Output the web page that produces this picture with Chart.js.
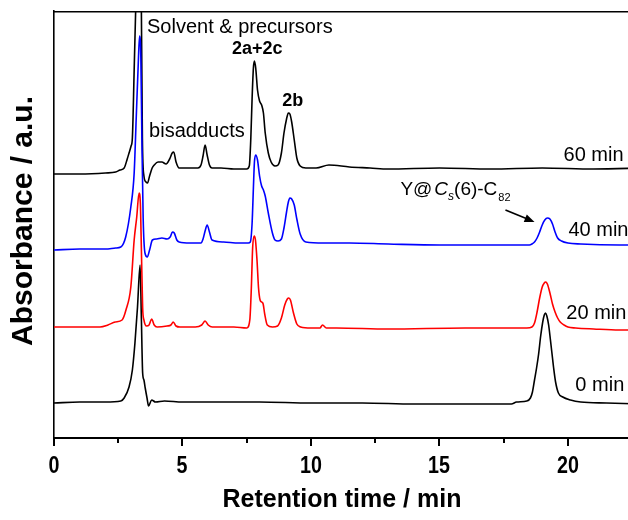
<!DOCTYPE html>
<html><head><meta charset="utf-8">
<script src="https://cdn.jsdelivr.net/npm/chart.js@4/dist/chart.umd.min.js"></script>
<style>html,body{margin:0;padding:0;overflow:hidden;background:#fff;width:628px;height:520px}canvas{display:block}</style>
</head><body><canvas id="c" width="645" height="520"></canvas>
<script>
// Retention time (min) and absorbance (a.u., traces stacked with offsets)
const t60 = [0,1,2,2.4,2.57,2.73,2.85,2.92,3.0,3.05,3.12,3.2,3.28,3.36,3.4,3.44,3.5,3.58,3.64,3.72,3.82,3.9,4.05,4.2,4.36,4.5,4.6,4.66,4.75,4.87,5.2,5.6,5.72,5.8,5.88,5.96,6.05,6.15,6.5,7.0,7.5,7.6,7.66,7.71,7.76,7.8,7.85,7.92,8.0,8.08,8.15,8.22,8.34,8.45,8.6,8.72,8.85,8.95,9.05,9.12,9.18,9.25,9.35,9.45,9.58,9.8,10.2,10.7,11.5,12.3,13,15,17,19,21,23];
const a60 = [264,264,265,266,268,270,279,285,292,300,368,450,520,500,430,300,262,256,255,262,270,273,276,276,274,279,285,286,276,270,270,270,273,282,293,283,273,270,270,269,269,272,300,340,370,377,370,348,337,333,325,305,285,276,272,273,285,305,319,325,324,316,298,280,272,270,270,273,271,270,269,270,269,270,269,270];

const t40 = [0,1,2,2.4,2.6,2.79,2.99,3.12,3.2,3.28,3.33,3.38,3.42,3.47,3.54,3.63,3.72,3.83,4.0,4.2,4.4,4.52,4.61,4.68,4.78,4.87,5.3,5.72,5.8,5.88,5.96,6.05,6.15,6.6,7.2,7.56,7.64,7.71,7.76,7.8,7.85,7.92,8.0,8.08,8.15,8.22,8.34,8.5,8.6,8.72,8.85,8.95,9.05,9.12,9.18,9.25,9.35,9.45,9.58,9.8,10.5,11.5,13,15,17,18.4,18.5,18.6,18.7,18.8,18.9,19.0,19.1,19.2,19.3,19.4,19.5,19.6,19.75,20.0,20.5,22,23];
const a40 = [188,189,189,190,191,201,231,265,320,375,402,380,300,220,185,181,188,198,199,200,199,201,206,205,198,196,195,195,199,207,213,206,198,196,195,195,196,215,250,276,283,278,262,252,248,242,225,205,198,197,199,210,226,236,240,239,233,219,204,196,195,195,194,193,193,193,193,194,196,200,206,213,218,220,219,214,206,200,197,195,194,193,193,193];

const t20 = [0,1,1.79,2.1,2.38,2.65,2.8,2.99,3.12,3.22,3.31,3.36,3.4,3.45,3.5,3.6,3.7,3.8,3.9,4.01,4.4,4.55,4.64,4.75,4.9,5.5,5.75,5.88,6.0,6.16,7.0,7.5,7.62,7.68,7.73,7.79,7.84,7.9,7.96,8.02,8.08,8.14,8.2,8.3,8.5,8.7,8.85,8.98,9.08,9.14,9.2,9.32,9.45,9.6,10,10.35,10.45,10.6,11,13,16,18.4,18.6,18.7,18.8,18.9,19.0,19.08,19.13,19.2,19.3,19.4,19.5,19.6,19.7,19.85,20.0,20.3,21,22,23];
const a20 = [111,111,111,113,116,118,128,151,198,221,245,235,190,130,118,112,113,119,113,111,112,113,116,112,111,111,113,117,113,111,111,110,118,150,190,202,198,178,150,138,136,134,124,113,111,112,120,133,139,140,138,125,114,111,110,110,113,110,110,109,110,110,111,115,126,140,151,155,156,154,145,134,126,120,116,113,111,110,109,108,108];

const t0 = [0,1,2,2.6,2.73,2.92,3.05,3.15,3.25,3.35,3.4,3.45,3.5,3.55,3.62,3.68,3.8,3.95,4.3,5,6,8,10,12,14,16,17.8,18.0,18.4,18.54,18.62,18.7,18.78,18.86,18.94,19.02,19.08,19.13,19.18,19.25,19.32,19.4,19.44,19.52,19.63,19.8,20.1,20.5,21.5,23];
const a0 = [35,36,36,37,40,51,68,95,131,173,120,65,58,50,40,32,38,36,37,36,36,36,35,35,34,34,34,36,37,40,46,58,70,84,102,116,123,125,122,113,98,80,71,56,45,41,38,36,35,34];

const seriesLabels = ['60 min','40 min','20 min','0 min'];
const seriesColors = ['#000000','#0000ff','#ff0000','#000000'];
const xTickStep = 2.5;
const xMajor = 5;

const toPts = (t,a) => t.map((v,i)=>({x:v,y:a[i]}));
const times = [t60,t40,t20,t0];
const values = [a60,a40,a20,a0];

const FONT = "'Liberation Sans', Arial, sans-serif";

const annot = {
  id:'annot',
  afterDraw(chart){
    const {ctx, chartArea:ca, scales:{x,y}} = chart;
    ctx.save();
    ctx.strokeStyle='#000'; ctx.fillStyle='#000';
    // top frame
    ctx.lineWidth=1.5;
    ctx.beginPath(); ctx.moveTo(ca.left, ca.top+0.75); ctx.lineTo(ca.right, ca.top+0.75); ctx.stroke();
    // tick marks and condensed bold tick labels
    ctx.lineWidth=2;
    ctx.textAlign='center'; ctx.textBaseline='middle';
    x.ticks.forEach(t=>{
      if (Math.abs(t.value/xTickStep - Math.round(t.value/xTickStep))>1e-6) return;
      const px = Math.round(x.getPixelForValue(t.value));
      const major = Math.abs(t.value % xMajor) < 1e-6;
      ctx.beginPath(); ctx.moveTo(px, ca.bottom); ctx.lineTo(px, ca.bottom + (major?8:5)); ctx.stroke();
      if (major) {
        ctx.save();
        ctx.translate(px, ca.bottom + 28);
        ctx.scale(0.82, 1);
        ctx.font = 'bold 24px '+FONT;
        ctx.fillText(String(t.value), 0, 0);
        ctx.restore();
      }
    });
    // text labels
    ctx.textBaseline='middle'; ctx.textAlign='left';
    const txt = (s, xv, yv, font) => { ctx.font = font; ctx.fillText(s, x.getPixelForValue(xv), y.getPixelForValue(yv)); };
    txt('Solvent & precursors', 3.62, 411, '20px '+FONT);
    txt('2a+2c', 6.93, 389, 'bold 18px '+FONT);
    txt('2b', 8.88, 337, 'bold 18px '+FONT);
    txt('bisadducts', 3.70, 307, '20px '+FONT);
    txt('60 min', 19.83, 283, '20px '+FONT);
    txt('40 min', 20.02, 208, '20px '+FONT);
    txt('20 min', 19.94, 125, '20px '+FONT);
    txt('0 min', 20.29, 53, '20px '+FONT);
    // Y@Cs(6)-C82
    let px = x.getPixelForValue(13.48), py = y.getPixelForValue(243);
    ctx.textBaseline='alphabetic';
    const seg = (s, font, dy) => { ctx.font = font; ctx.fillText(s, px, py+dy); px += ctx.measureText(s).width; };
    seg('Y@', '19px '+FONT, 0);
    px += 2;
    seg('C', 'italic 19px '+FONT, 0);
    seg('s', 'italic 12px '+FONT, 5);
    seg('(6)-C', '19px '+FONT, 0);
    px += 1;
    seg('82', '11px '+FONT, 6);
    // arrow
    const x1 = x.getPixelForValue(17.57), y1 = y.getPixelForValue(228);
    const x2 = x.getPixelForValue(18.70), y2 = y.getPixelForValue(216);
    const ang = Math.atan2(y2-y1, x2-x1);
    ctx.lineWidth=1.6;
    ctx.beginPath(); ctx.moveTo(x1,y1); ctx.lineTo(x2-7*Math.cos(ang), y2-7*Math.sin(ang)); ctx.stroke();
    ctx.beginPath();
    ctx.moveTo(x2,y2);
    ctx.lineTo(x2-10*Math.cos(ang)+4*Math.sin(ang), y2-10*Math.sin(ang)-4*Math.cos(ang));
    ctx.lineTo(x2-10*Math.cos(ang)-4*Math.sin(ang), y2-10*Math.sin(ang)+4*Math.cos(ang));
    ctx.closePath(); ctx.fill();
    // axis titles
    ctx.textAlign='center'; ctx.textBaseline='middle';
    ctx.font = 'bold 25px '+FONT;
    ctx.fillText('Retention time / min', 342, 500);
    ctx.save();
    ctx.translate(24, 221); ctx.rotate(-Math.PI/2);
    ctx.font = 'bold 30px '+FONT;
    ctx.fillText('Absorbance / a.u.', 0, 0);
    ctx.restore();
    ctx.restore();
  }
};

new Chart(document.getElementById('c'), {
  type:'line',
  data:{
    datasets: seriesLabels.map((lab,i)=>({
      label: lab,
      data: toPts(times[i], values[i]),
      borderColor: seriesColors[i],
      borderWidth: 1.6,
      pointRadius: 0,
      cubicInterpolationMode: 'monotone',
      fill: false,
      order: [3,0,1,2][i]
    }))
  },
  options:{
    responsive:false,
    devicePixelRatio:1,
    animation:false,
    layout:{padding:{top:11,left:0,right:0,bottom:0}},
    plugins:{legend:{display:false}, tooltip:{enabled:false}},
    scales:{
      x:{
        type:'linear', min:0, max:23,
        afterFit(s){ s.height = 82; s.paddingLeft = 0; s.paddingRight = 0; },
        grid:{display:false, drawTicks:false},
        border:{display:true, color:'#000', width:2},
        ticks:{ stepSize:xTickStep, autoSkip:false, maxRotation:0, padding:0, display:false }
      },
      y:{
        type:'linear', min:0, max:427,
        afterFit(s){ s.width = 54; },
        grid:{display:false, drawTicks:false},
        border:{display:true, color:'#000', width:1.6},
        ticks:{display:false}
      }
    }
  },
  plugins:[annot]
});
</script>
</body></html>
